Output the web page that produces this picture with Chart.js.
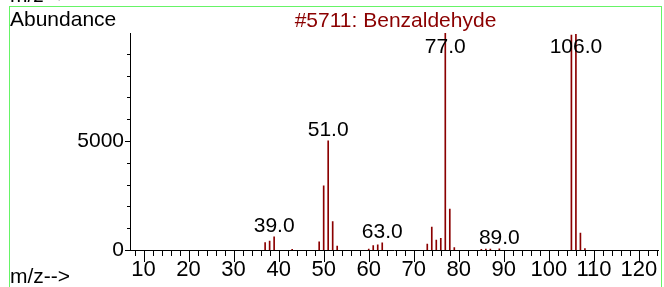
<!DOCTYPE html>
<html><head><meta charset="utf-8">
<script src="https://cdn.jsdelivr.net/npm/chart.js@4/dist/chart.umd.min.js"></script>
<style>html,body{margin:0;padding:0;background:#fff;overflow:hidden}#wrap{width:664px;height:287px;position:relative}</style>
</head><body><div id="wrap"><canvas id="c" width="664" height="287"></canvas></div>
<script>
// ---- data ----
const mz        = [37, 38, 39, 43, 49, 50, 51, 52, 53, 60, 61, 62, 63, 73, 74, 75, 76, 77, 78, 79, 85, 86, 87, 89, 105, 106, 107, 108];
const abundance = [340,410,610,30,380,2940,5010,1300,180,40,200,240,330,270,1050,460,540,9950,1880,110,30,40,40,50,9860,9900,780,70];
const labeledPeaks = [39, 51, 63, 77, 89, 106];
const xTickLabels = [10, 20, 30, 40, 50, 60, 70, 80, 90, 100, 110, 120];
const yTickLabels = [0, 5000];
const titleText = '#5711: Benzaldehyde';
const yAxisTitle = 'Abundance';
const xAxisTitle = 'm/z-->';

const FONT = '"Liberation Sans", Arial, sans-serif';
const RED = '#8b0000';

const overlay = {
  id: 'overlay',
  afterDraw(chart) {
    const ctx = chart.ctx, xs = chart.scales.x, ys = chart.scales.y, a = chart.chartArea;
    ctx.save();
    // tick marks
    ctx.strokeStyle = '#000'; ctx.lineWidth = 1;
    ctx.beginPath();
    for (let v = 8; v <= 124; v += 2) {
      const px = Math.round(xs.getPixelForValue(v)) + 0.5;
      const len = (v % 10 === 0) ? 12 : 6;
      ctx.moveTo(px, a.bottom); ctx.lineTo(px, a.bottom + len);
    }
    for (let v = 0; v <= 9000; v += 1000) {
      const py = Math.round(ys.getPixelForValue(v)) + 0.5;
      const len = (v % 5000 === 0) ? 5 : 3;
      ctx.moveTo(a.left, py); ctx.lineTo(a.left - len, py);
    }
    ctx.stroke();
    // peak labels
    ctx.fillStyle = '#000';
    ctx.font = '21px ' + FONT;
    ctx.textAlign = 'center'; ctx.textBaseline = 'alphabetic';
    labeledPeaks.forEach(m => {
      const i = mz.indexOf(m);
      const px = xs.getPixelForValue(m);
      let py = ys.getPixelForValue(abundance[i]) - 5;
      if (py < a.top + 20) py = a.top + 20;
      ctx.fillText(m.toFixed(1), px, py);
    });
    // texts
    ctx.textAlign = 'left';
    ctx.fillText(yAxisTitle, 10, 26);
    ctx.fillText(xAxisTitle, 10, 2);
    ctx.fillText(xAxisTitle, 10, 283);
    ctx.fillStyle = RED; ctx.textAlign = 'center';
    ctx.fillText(titleText, 395.5, 27);
    // green frame
    ctx.strokeStyle = '#66f466'; ctx.lineWidth = 1;
    ctx.strokeRect(9.5, 6.5, 652, 290);
    ctx.restore();
  }
};

new Chart(document.getElementById('c'), {
  type: 'bar',
  data: { datasets: [{
    data: mz.map((m, i) => ({ x: m, y: abundance[i] })),
    backgroundColor: RED, borderWidth: 0, barThickness: 1
  }]},
  options: {
    responsive: false, animation: false, devicePixelRatio: 1,
    layout: { padding: { top: 33, right: 4, left: 0, bottom: 0 } },
    plugins: { legend: { display: false }, tooltip: { enabled: false }, title: { display: false } },
    scales: {
      x: {
        type: 'linear', min: 7, max: 124.3, offset: false,
        grid: { display: false, drawTicks: false },
        border: { display: true, color: '#000', width: 1 },
        afterBuildTicks: s => { const t = []; for (let v = 8; v <= 124; v += 2) t.push({ value: v }); s.ticks = t; },
        afterFit: s => { s.height = 37; },
        ticks: { autoSkip: false, maxRotation: 0, padding: 7, color: '#000', font: { family: FONT, size: 22 },
          callback: v => xTickLabels.includes(v) ? String(v) : '' }
      },
      y: {
        min: 0, max: 9960,
        grid: { display: false, drawTicks: false },
        border: { display: true, color: '#000', width: 1 },
        afterBuildTicks: s => { const t = []; for (let v = 0; v <= 9000; v += 1000) t.push({ value: v }); s.ticks = t; },
        afterFit: s => { s.width = 130; },
        ticks: { autoSkip: false, padding: 6, color: '#000', font: { family: FONT, size: 21 },
          callback: v => yTickLabels.includes(v) ? String(v) : '' }
      }
    }
  },
  plugins: [overlay]
});
</script></body></html>
